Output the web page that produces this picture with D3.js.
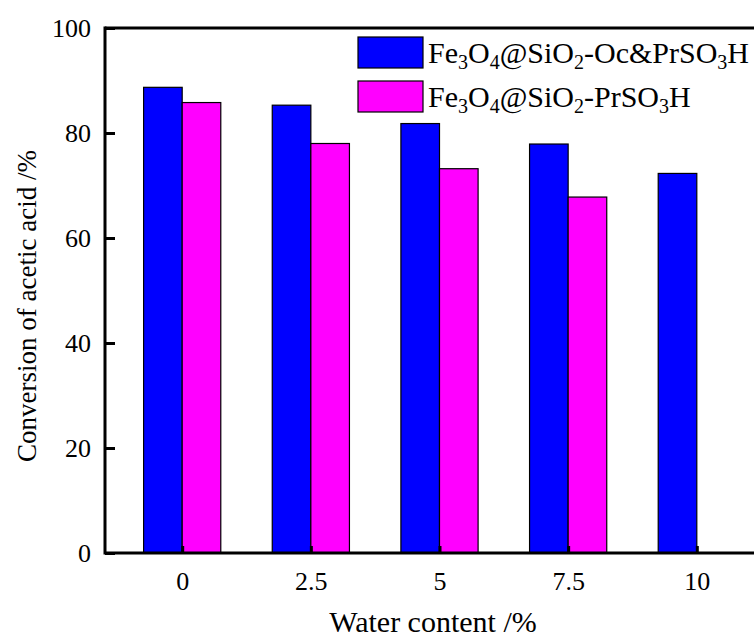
<!DOCTYPE html>
<html><head><meta charset="utf-8">
<script src="https://cdn.jsdelivr.net/npm/d3@7"></script>
<style>body{margin:0;background:#fff}svg{display:block}text{font-family:"Liberation Serif","Times New Roman",serif;fill:#000}</style>
</head><body>
<script>
const categories = [0, 2.5, 5, 7.5, 10];
const catLabels = ["0", "2.5", "5", "7.5", "10"];
const seriesOc = [88.7, 85.3, 81.8, 77.9, 72.3];
const seriesPr = [85.8, 78.0, 73.2, 67.8, null];
const yTicks = [0, 20, 40, 60, 80, 100];
const seriesNames = ["Fe3O4@SiO2-Oc&PrSO3H", "Fe3O4@SiO2-PrSO3H"];
const colors = ["#0000ff", "#ff00ff"];

const W = 754, H = 641;
const svg = d3.select("body").append("svg").attr("width", W).attr("height", H);
const x = d3.scaleLinear().domain([-1.5, 11.5]).range([105, 774]);
const y = d3.scaleLinear().domain([0, 100]).range([553, 28]);
const bw = x(0.75) - x(0);

const g = svg.append("g");
[seriesOc, seriesPr].forEach((s, si) => {
  g.selectAll(null).data(categories.map((c, i) => ({c, v: s[i]})).filter(d => d.v != null))
    .enter().append("rect")
    .attr("x", d => si === 0 ? x(d.c) - bw : x(d.c))
    .attr("y", d => y(d.v))
    .attr("width", bw)
    .attr("height", d => y(0) - y(d.v))
    .attr("fill", colors[si]).attr("stroke", "#000").attr("stroke-width", 1.2);
});

// axes
const yAxis = d3.axisLeft(y).tickValues(yTicks).tickSize(-10).tickPadding(14).tickFormat(d3.format("d"));
const ya = svg.append("g").attr("transform", `translate(${x.range()[0]},0)`).call(yAxis);
ya.attr("font-size", null).attr("font-family", null);
ya.select(".domain").remove();
ya.selectAll(".tick line").attr("stroke-width", 3);
ya.selectAll(".tick text").style("font-size", "26px").attr("fill", "#000");

const xAxis = d3.axisBottom(x).tickValues(categories).tickSize(-7).tickPadding(19).tickFormat((d, i) => catLabels[i]);
const xa = svg.append("g").attr("transform", `translate(0,${y(0)})`).call(xAxis);
xa.attr("font-size", null).attr("font-family", null);
xa.select(".domain").remove();
xa.selectAll(".tick line").attr("stroke-width", 3);
xa.selectAll(".tick text").style("font-size", "26px").attr("fill", "#000");

// frame
const fx0 = x.range()[0], fx1 = x.range()[1], fy0 = y.range()[1], fy1 = y.range()[0];
svg.append("line").attr("x1", fx0).attr("x2", fx0).attr("y1", fy0 - 1.5).attr("y2", fy1 + 1.5).attr("stroke", "#000").attr("stroke-width", 3);
svg.append("line").attr("x1", fx0).attr("x2", fx1).attr("y1", fy1).attr("y2", fy1).attr("stroke", "#000").attr("stroke-width", 3);
svg.append("line").attr("x1", fx0).attr("x2", fx1).attr("y1", fy0).attr("y2", fy0).attr("stroke", "#000").attr("stroke-width", 3);

// titles
svg.append("text").attr("x", 433).attr("y", 632).attr("text-anchor", "middle").style("font-size", "30px").text("Water content /%");
svg.append("text").attr("transform", "translate(36,306) rotate(-90)").attr("text-anchor", "middle").style("font-size", "27px").text("Conversion of acetic acid /%");

// legend
seriesNames.forEach((n, i) => {
  const ly = 37 + i * 44;
  svg.append("rect").attr("x", 358).attr("y", ly).attr("width", 65).attr("height", 31)
    .attr("fill", colors[i]).attr("stroke", "#000").attr("stroke-width", 1.2);
  const t = svg.append("text").attr("x", 428).attr("y", ly + 26).style("font-size", "30px");
  const parts = n.split(/(\d)/).filter(p => p !== "");
  parts.forEach(p => {
    if (/^\d$/.test(p)) t.append("tspan").style("font-size", "20px").attr("baseline-shift", "-30%").text(p);
    else t.append("tspan").text(p);
  });
});
</script>
</body></html>
